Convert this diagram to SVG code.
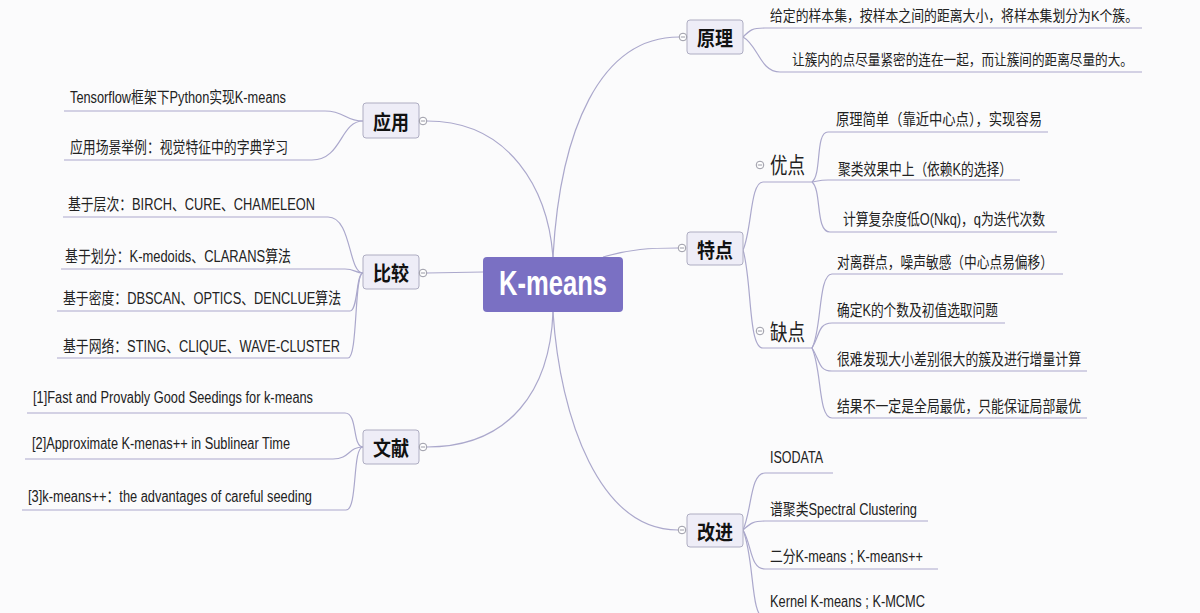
<svg xmlns="http://www.w3.org/2000/svg" width="1200" height="613" viewBox="0 0 1200 613">
<style>
.bg{fill:#fbfbfc}
.ln{fill:none;stroke:#aba8cc;stroke-width:1.2}
.box{fill:#eeedf7;stroke:#aeadc2;stroke-width:1}
.bt{font-family:"Noto Sans CJK SC",sans-serif;font-size:20px;font-weight:bold;fill:#111}
.st{font-family:"Noto Sans CJK SC",sans-serif;font-size:22px;fill:#222}
.lf{font-family:"Liberation Sans","Noto Sans CJK SC",sans-serif;font-size:16px;fill:#222}
.lf2{font-family:"Liberation Sans","Noto Sans CJK SC",sans-serif;font-size:14.5px;fill:#222}
.dot{fill:#fff;stroke:#9a9aa6;stroke-width:1}
.dl{stroke:#9a9aa6;stroke-width:1}
</style>
<defs>
<g id="ind"><circle class="dot" cx="0" cy="0" r="3.8"/><line class="dl" x1="-2.2" y1="0" x2="2.2" y2="0"/></g>
</defs>
<rect class="bg" x="0" y="0" width="1200" height="613"/>
<g id="connectors">
<path class="ln" d="M553,257 C548,190 510,121 427,121"/>
<path class="ln" d="M553,257 C560,130 600,37 679,37"/>
<path class="ln" d="M603,257 C630,249 650,248 678,248"/>
<path class="ln" d="M483,272 L427,273"/>
<path class="ln" d="M553,312 C550,390 510,447 427,447"/>
<path class="ln" d="M553,312 C560,420 600,530 678,530"/>
<path class="ln" d="M64,111 H325 C345,111 345,121 363,121"/>
<path class="ln" d="M64,160 H312 C342,160 340,121 363,121"/>
<path class="ln" d="M63,217 H328 C352,217 348,273 363,273"/>
<path class="ln" d="M61,269 H345 C355,269 355,273 363,273"/>
<path class="ln" d="M57,311 H350 C358,311 356,273 363,273"/>
<path class="ln" d="M57,358 H348 C358,358 354,273 363,273"/>
<path class="ln" d="M27,413 H345 C358,413 352,447 363,447"/>
<path class="ln" d="M25,459 H333 C350,459 348,447 363,447"/>
<path class="ln" d="M22,510 H346 C358,510 352,447 363,447"/>
<path class="ln" d="M743,37 C750,30 752,28 765,28 H1142"/>
<path class="ln" d="M743,37 C758,45 760,72 780,72 H1142"/>
<path class="ln" d="M743,250 C752,230 750,182 763,182 H812"/>
<path class="ln" d="M743,250 C752,280 748,348 763,348 H812"/>
<path class="ln" d="M812,182 C822,175 815,132 828,132 H1048"/>
<path class="ln" d="M812,182 C818,181 820,180 828,180 H1020"/>
<path class="ln" d="M812,182 C822,190 815,232 830,232 H1057"/>
<path class="ln" d="M812,348 C822,330 818,274 832,274 H1063"/>
<path class="ln" d="M812,348 C820,335 818,323 832,323 H1005"/>
<path class="ln" d="M812,348 C820,360 818,371 832,371 H1087"/>
<path class="ln" d="M812,348 C822,370 818,418 832,418 H1087"/>
<path class="ln" d="M743,530 C752,510 750,473 765,473 H833"/>
<path class="ln" d="M743,530 C750,524 752,521 765,521 H928"/>
<path class="ln" d="M743,530 C752,545 750,569 765,569 H938"/>
<path class="ln" d="M743,530 C755,560 750,618 765,618 H940"/>
</g>
<g id="root">
<rect x="483" y="257" width="140" height="55" rx="4" fill="#7a70c3"/>
<text x="553" y="295" text-anchor="middle" font-family="Liberation Sans,sans-serif" font-size="35" font-weight="bold" fill="#fff" textLength="108" lengthAdjust="spacingAndGlyphs">K-means</text>
</g>
<g id="n-yingyong">
<rect class="box" x="363" y="103" width="56" height="35" rx="3"/>
<text class="bt" x="373" y="130" textLength="36" lengthAdjust="spacingAndGlyphs">应用</text>
<use href="#ind" x="423" y="121"/>
<text class="lf" x="70" y="103" textLength="216" lengthAdjust="spacingAndGlyphs">Tensorflow框架下Python实现K-means</text>
<text class="lf" x="70" y="153" textLength="218" lengthAdjust="spacingAndGlyphs">应用场景举例：视觉特征中的字典学习</text>
</g>
<g id="n-bijiao">
<rect class="box" x="363" y="255" width="56" height="34" rx="3"/>
<text class="bt" x="373" y="281" textLength="36" lengthAdjust="spacingAndGlyphs">比较</text>
<use href="#ind" x="423" y="273"/>
<text class="lf" x="68" y="210" textLength="247" lengthAdjust="spacingAndGlyphs">基于层次：BIRCH、CURE、CHAMELEON</text>
<text class="lf" x="65" y="262" textLength="226" lengthAdjust="spacingAndGlyphs">基于划分：K-medoids、CLARANS算法</text>
<text class="lf" x="63" y="304" textLength="278" lengthAdjust="spacingAndGlyphs">基于密度：DBSCAN、OPTICS、DENCLUE算法</text>
<text class="lf" x="63" y="352" textLength="277" lengthAdjust="spacingAndGlyphs">基于网络：STING、CLIQUE、WAVE-CLUSTER</text>
</g>
<g id="n-wenxian">
<rect class="box" x="363" y="430" width="56" height="34" rx="3"/>
<text class="bt" x="373" y="456" textLength="36" lengthAdjust="spacingAndGlyphs">文献</text>
<use href="#ind" x="423" y="447"/>
<text class="lf" x="33" y="403" textLength="280" lengthAdjust="spacingAndGlyphs">[1]Fast and Provably Good Seedings for k-means</text>
<text class="lf" x="32" y="449" textLength="258" lengthAdjust="spacingAndGlyphs">[2]Approximate K-menas++ in Sublinear Time</text>
<text class="lf" x="28" y="502" textLength="284" lengthAdjust="spacingAndGlyphs">[3]k-means++：the advantages of careful seeding</text>
</g>
<g id="n-yuanli">
<rect class="box" x="687" y="20" width="56" height="34" rx="3"/>
<text class="bt" x="697" y="46" textLength="36" lengthAdjust="spacingAndGlyphs">原理</text>
<use href="#ind" x="683" y="37"/>
<text class="lf2" x="770" y="21" textLength="368" lengthAdjust="spacingAndGlyphs">给定的样本集，按样本之间的距离大小，将样本集划分为K个簇。</text>
<text class="lf2" x="792" y="65" textLength="341" lengthAdjust="spacingAndGlyphs">让簇内的点尽量紧密的连在一起，而让簇间的距离尽量的大。</text>
</g>
<g id="n-tedian">
<rect class="box" x="687" y="232" width="56" height="33" rx="3"/>
<text class="bt" x="697" y="258" textLength="36" lengthAdjust="spacingAndGlyphs">特点</text>
<use href="#ind" x="682" y="248"/>
</g>
<g id="n-youdian">
<use href="#ind" x="760" y="165"/>
<text class="st" x="770" y="173" textLength="35" lengthAdjust="spacingAndGlyphs">优点</text>
<text class="lf" x="836" y="125" textLength="206" lengthAdjust="spacingAndGlyphs">原理简单（靠近中心点），实现容易</text>
<text class="lf" x="838" y="175" textLength="174" lengthAdjust="spacingAndGlyphs">聚类效果中上（依赖K的选择）</text>
<text class="lf" x="843" y="225" textLength="202" lengthAdjust="spacingAndGlyphs">计算复杂度低O(Nkq)，q为迭代次数</text>
</g>
<g id="n-quedian">
<use href="#ind" x="760" y="331"/>
<text class="st" x="770" y="340" textLength="35" lengthAdjust="spacingAndGlyphs">缺点</text>
<text class="lf" x="837" y="268" textLength="216" lengthAdjust="spacingAndGlyphs">对离群点，噪声敏感（中心点易偏移）</text>
<text class="lf" x="837" y="316" textLength="161" lengthAdjust="spacingAndGlyphs">确定K的个数及初值选取问题</text>
<text class="lf" x="837" y="365" textLength="244" lengthAdjust="spacingAndGlyphs">很难发现大小差别很大的簇及进行增量计算</text>
<text class="lf" x="837" y="412" textLength="244" lengthAdjust="spacingAndGlyphs">结果不一定是全局最优，只能保证局部最优</text>
</g>
<g id="n-gaijin">
<rect class="box" x="687" y="514" width="56" height="33" rx="3"/>
<text class="bt" x="697" y="540" textLength="36" lengthAdjust="spacingAndGlyphs">改进</text>
<use href="#ind" x="682" y="530"/>
<text class="lf" x="770" y="463" textLength="53" lengthAdjust="spacingAndGlyphs">ISODATA</text>
<text class="lf" x="770" y="515" textLength="147" lengthAdjust="spacingAndGlyphs">谱聚类Spectral Clustering</text>
<text class="lf" x="770" y="562" textLength="153" lengthAdjust="spacingAndGlyphs">二分K-means ; K-means++</text>
<text class="lf" x="770" y="607" textLength="155" lengthAdjust="spacingAndGlyphs">Kernel K-means ; K-MCMC</text>
</g>
</svg>
